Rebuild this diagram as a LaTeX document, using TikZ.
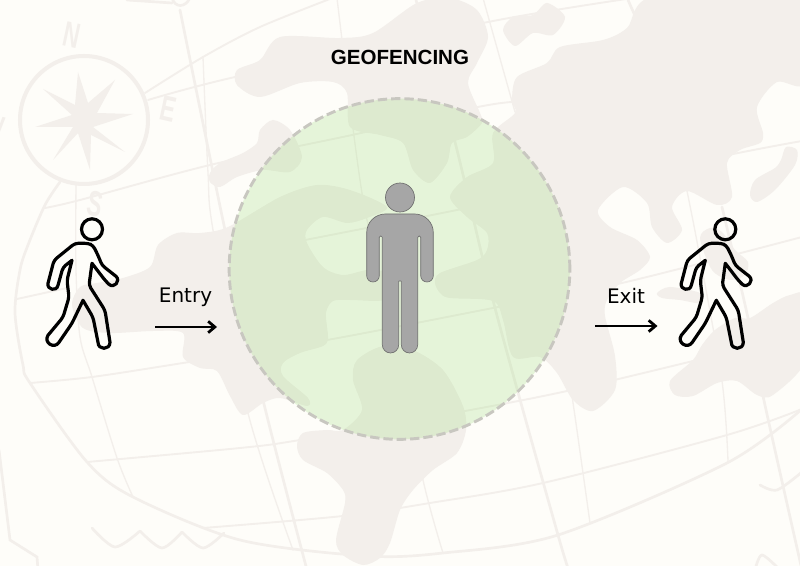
\documentclass[tikz,border=0pt]{standalone}
\usepackage{fontspec}
\setmainfont{DejaVu Sans}
\newfontfamily\titlefont{Liberation Sans}
\newfontfamily\mapfont{Liberation Sans}
\usetikzlibrary{arrows.meta, positioning}
\definecolor{paper}{HTML}{FEFDF9}
\definecolor{mapblob}{HTML}{F3EFEB}
\definecolor{mapline}{HTML}{F3EFEB}
\definecolor{zonegreen}{RGB}{158,221,125}
\definecolor{zonedash}{HTML}{C8C7C0}
\definecolor{personfill}{HTML}{A6A6A6}
\definecolor{personline}{HTML}{6E6E6E}
\tikzset{
    gridthick/.style={draw=mapline, line width=2pt, line cap=round},
    gridmid/.style={draw=mapline, line width=1.4pt, line cap=round},
    gridthin/.style={draw=mapline, line width=1pt, line cap=round},
    blob/.style={fill=mapblob},
    zone/.style={circle, draw=zonedash, fill=zonegreen, fill opacity=.25, draw opacity=1, line width=2.2pt, dash pattern=on 7pt off 3pt, inner sep=0pt, minimum size=255.5pt},
    arrow/.style={-{Straight Barb[length=5pt,width=8.5pt]}, line width=2.1pt},
    label/.style={font=\fontsize{15}{18}\selectfont, text=black},
    compassletter/.style={font=\mapfont\bfseries\itshape\fontsize{27}{27}\selectfont, text=mapline, xscale=.62},
    walker/.pic={
      \draw[black, line width=2.4pt, line join=round] (0,0) circle (10.5);
      \draw[black, line width=2.4pt, line join=round, rounded corners=2.5pt]
        (-4,14) -- (1,16) -- (6,26) -- (10,36) [sharp corners] -- (24,47)
        .. controls (29,51.6) and (22,59.6) .. (17,55) [rounded corners=2.5pt] -- (13,51)
        [sharp corners] -- (0,34) [rounded corners=2.5pt] -- (-3,56) -- (13,81) [sharp corners] -- (18,113)
        .. controls (18,121) and (6,121) .. (6,113) [rounded corners=2.5pt] -- (1,88)
        [sharp corners] -- (-9,71) [rounded corners=2.5pt] -- (-20,94) [sharp corners] -- (-33,113)
        .. controls (-37.7,120.3) and (-48.7,113.3) .. (-44,106) [rounded corners=2.5pt] -- (-29,88) -- (-23,68) -- (-25,51)
        [sharp corners] -- (-20,31) [rounded corners=2.5pt] -- (-29,38) [sharp corners] -- (-34,56)
        .. controls (-35.3,62.6) and (-45.3,60.6) .. (-44,54) [rounded corners=2.5pt] -- (-38,31) -- (-17,14) -- cycle;
    },
}

\begin{document}
\begin{tikzpicture}[x=0.75pt,y=-0.75pt]
\path[use as bounding box] (0,0) rectangle (800,566);
\clip (0,0) rectangle (800,566);
\fill[paper] (0,0) rectangle (800,566);

%=========================
% Map lines
%=========================
\draw[gridthick] plot[smooth] coordinates {(180,10) (225,230) (263,400) (307,570)};
\draw[gridthin] plot[smooth] coordinates {(203,57) (208,173) (213,230) (248,413) (293,550)};
\draw[gridthick] (127,0) -- (172,3);
\draw[gridthick] (172,-2) .. controls (175,8) and (185,8) .. (190,-2);
\draw[gridmid] plot[smooth] coordinates {(145,93) (203,57) (260,27) (335,-3)};
\draw[gridmid] plot[smooth] coordinates {(148,100) (235,77) (488,22) (633,-2)};
\draw[gridmid] plot[smooth] coordinates {(45,208) (80,200) (210,165) (352,135) (478,107) (512,102)};
\draw[gridmid] plot[smooth] coordinates {(250,250) (305,240) (457,210) (728,155) (802,141)};
\draw[gridmid] plot[smooth] coordinates {(30,383) (92,377) (183,363) (327,340) (493,308) (622,283) (802,237)};
\draw[gridmid] plot[smooth] coordinates {(87,462) (240,448) (300,440) (465,411) (567,391) (693,361)};
\draw[gridmid] plot[smooth] coordinates {(203,528) (343,516) (430,503) (543,483) (727,435) (802,409)};
\draw[gridthick] plot[smooth] coordinates {(60,182) (45,205) (28,245) (20,270) (15,313) (23,365) (30,383) (87,462) (133,497) (240,540) (367,556) (443,553) (558,535) (727,463) (802,409)};
\draw[gridmid] (17,299) -- (67,288);
\draw[gridthin] plot[smooth] coordinates {(76,183) (76,270) (80,337) (92,377) (117,458) (133,497)};
\draw[gridthin] plot[smooth] coordinates {(337,-2) (362,193) (390,320) (423,480) (443,553)};
\draw[gridthin] (483,-2) -- (515,112);
\draw[gridthick] plot[smooth] coordinates {(416,0) (455,142) (495,308) (558,535) (569,570)};
\draw[gridthin] plot[smooth] coordinates {(565,360) (572,396) (590,523)};
\draw[gridthin] plot[smooth] coordinates {(687,191) (698,247) (722,381) (728,461)};
\draw[gridthick] plot[smooth] coordinates {(722,207) (748,318) (763,396) (802,570)};
\draw[gridthick] (628,0) -- (636,18);
% shore and waves
\draw[gridthick] (-1,450) -- (10,540) -- (37,557) -- (38,570);
\draw[gridthick] plot[smooth] coordinates {(92,528) (115,547) (140,531)};
\draw[gridthick] plot[smooth] coordinates {(140,531) (162,548) (182,532)};
\draw[gridthick] plot[smooth] coordinates {(182,532) (203,548) (224,533)};
\draw[gridthick] plot[smooth] coordinates {(760,485) (777,490) (802,472)};
\draw[gridthick] plot[smooth] coordinates {(755,570) (762,555) (780,570)};

%=========================
% Land
%=========================
\fill[blob] plot[smooth cycle] coordinates {(237,70) (260,60) (280,37) (340,38) (373,33) (417,3) (450,-2) (477,10) (488,37) (477,63) (468,83) (480,113) (482,123) (467,137) (452,143) (447,163) (430,183) (413,170) (403,143) (380,135) (350,127) (347,93) (333,82) (300,83) (260,97) (237,85)};
\fill[blob] plot[smooth cycle] coordinates {(503,30) (513,17) (533,15) (547,3) (565,17) (553,35) (533,33) (515,46)};
\fill[blob] plot[smooth cycle] coordinates {(210,173) (220,163) (243,153) (257,143) (260,130) (273,120) (290,130) (302,157) (290,172) (263,170) (237,177) (220,187) (210,182)};
\fill[blob] plot[smooth cycle, tension=.5] coordinates {(560,47) (603,40) (627,28) (655,-4) (806,-4) (806,82) (777,82) (757,107) (763,133) (760,143) (740,150) (727,163) (732,197) (717,205) (687,191) (672,207) (682,230) (667,243) (652,227) (647,203) (623,187) (598,210) (610,227) (637,240) (650,257) (640,270) (620,283) (607,300) (605,316) (615,356) (615,390) (593,411) (573,400) (557,373) (540,357) (513,357) (503,320) (493,301) (450,298) (440,293) (435,283) (440,273) (477,260) (487,250) (487,233) (467,217) (450,197) (467,177) (493,163) (493,133) (515,113) (512,100) (517,77) (547,63)};
\fill[blob] plot[smooth cycle] coordinates {(786,147) (797,150) (795,165) (775,190) (757,202) (750,195) (755,180) (775,168) (781,160)};
\fill[blob] plot[smooth cycle] coordinates {(657,293) (670,287) (700,293) (700,303) (680,300) (662,298)};
\fill[blob] plot[smooth cycle] coordinates {(700,238) (710,228) (722,232) (735,250) (748,262) (745,275) (730,280) (712,270)};
\fill[blob] plot[smooth cycle] coordinates {(670,381) (693,360) (702,345) (715,330) (735,318) (750,318) (773,303) (790,295) (806,297) (806,360) (773,395) (757,395) (737,381) (717,383) (693,396) (675,395)};
\fill[blob] plot[smooth cycle, tension=.5] coordinates {(200,233) (228,227) (280,197) (317,185) (350,190) (387,207) (367,218) (347,223) (323,217) (307,230) (307,243) (323,267) (343,275) (367,270) (385,272) (395,285) (385,300) (350,300) (333,301) (326,313) (328,338) (323,346) (300,353) (283,363) (283,376) (308,398) (307,406) (280,398) (263,403) (243,415) (230,396) (217,371) (200,368) (183,357) (183,333) (153,331) (110,333) (83,328) (72,305) (80,287) (97,283) (123,278) (150,267) (158,245) (177,233)};
\fill[blob] plot[smooth cycle, tension=.5] coordinates {(297,446) (303,433) (327,430) (343,430) (362,410) (353,380) (357,360) (383,346) (413,350) (443,370) (463,406) (466,430) (457,453) (433,470) (413,490) (400,510) (390,543) (380,558) (363,565) (343,555) (336,540) (345,503) (343,490) (327,473) (303,460)};

%=========================
% Compass
%=========================
\draw[mapline, line width=3pt] (84,120) circle (64);
\fill[mapline] (78,72) -- (88,103) -- (115,80) -- (97,113) -- (133,114) -- (93,127) -- (125,152) -- (91,135) -- (90,170) -- (78,133) -- (53,160) -- (73,127) -- (35,127) -- (72,115) -- (43,89) -- (75,105) -- cycle;
\foreach \letter/\x/\y/\ang in {N/72/35/-8, E/168/109/-8, S/95/204/-8, W/-7/128/-8}{
  \node[compassletter, rotate=\ang] (compass\letter) at (\x,\y) {\letter};
}

%=========================
% Zone and person
%=========================
\node[zone] (geofence) at (399.5,269) {};
\node[font=\titlefont\bfseries\fontsize{15.4}{18}\selectfont, text=black] (title) at (400,57) {GEOFENCING};

\fill[personfill, draw=personline, line width=.5pt] (400,197.5) circle (14.5);
\path[fill=personfill, draw=personline, line width=.5pt]
  (366.7,260) [rounded corners=14pt] -- (366.7,214) -- (433.3,214)
  [rounded corners=4.7pt] -- (433.3,282) -- (420.7,282) [rounded corners=1pt] -- (420.7,236) -- (417.7,236)
  [rounded corners=6.2pt] -- (417.7,353) -- (401.3,353) [rounded corners=.3pt] -- (401.3,281) -- (398.7,281)
  [rounded corners=6.2pt] -- (398.7,353) -- (382.3,353) [rounded corners=1pt] -- (382.3,236) -- (379.3,236)
  [rounded corners=4.7pt] -- (379.3,282) -- (366.7,282) -- cycle;

%=========================
% Walkers and arrows
%=========================
\pic at (92,229.3) {walker};
\pic at (725.3,229.3) {walker};

\node[label] (entry) at (185.5,297.5) {Entry};
\node[label] (exit) at (626,296) {Exit};
\coordinate (entrystart) at (155,327);
\coordinate (entryend) at (217,327);
\coordinate (exitstart) at (595,326);
\coordinate (exitend) at (657.5,326);
\draw[arrow] (entrystart) -- (entryend);
\draw[arrow] (exitstart) -- (exitend);
\end{tikzpicture}
\end{document}
